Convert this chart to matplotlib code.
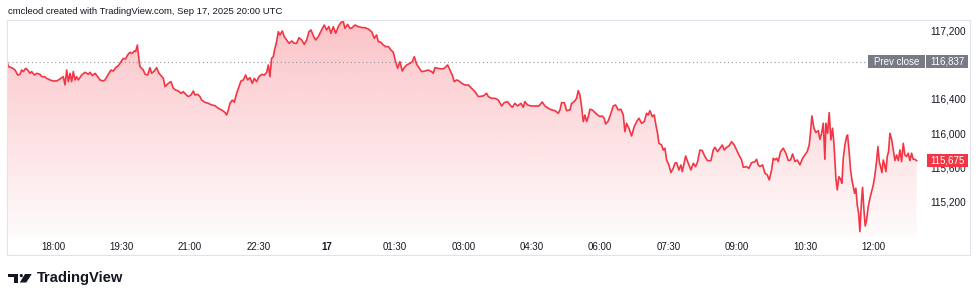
# %%
"""
BTC 日内走势 (TradingView 风格)
"""

import matplotlib.pyplot as plt
import matplotlib.transforms as mtransforms
import numpy as np
from matplotlib.patches import Rectangle, Circle, Polygon

plt.rcParams['font.family'] = ['Liberation Sans', 'DejaVu Sans']

# %%
# 数据: 距 16日 17:00 的分钟数, 价格
t_min = [0, 1.1, 5.5, 9.9, 13.4, 16.4, 18.6, 20.8, 23.9, 26.5, 29.6, 31.8, 35.3, 38.4, 42.8, 45, 48.5, 51.5,
         55.9, 60.3, 64.7, 69.1, 73.5, 75.7, 77.9, 80.1, 82.3, 84.4, 86.6, 88.8, 91, 93.2, 97.6, 102, 106.4,
         108.6, 111.6, 115.2, 118.7, 121.7, 126.1, 128.3, 132.7, 136.2, 139.3, 142.4, 145.9, 149.4, 152.4,
         155.5, 158.1, 161.2, 164.3, 166.9, 168.7, 170.9, 173.1, 174.4, 178.8, 181, 184.5, 187.5, 189.7,
         193.2, 196.3, 199.4,
         202, 205.1, 207.3, 209.5, 211.6, 215.2, 218.2, 221.3, 224.8, 228.3, 231.4, 234.5, 238, 241.5, 244.6,
         246.7, 250.3, 253.3, 255.5, 259.9, 264.3, 268.7, 273.1, 277.5, 281.8, 286.2, 288.4, 290.6, 292.8,
         295.9, 298.5, 301.6, 304.7, 307.3, 310.4, 313.4, 316.1, 319.1, 322.2, 324.8, 327.9, 331, 334.5, 338,
         341.1, 343.3, 345.4, 347.6, 349.8, 352, 354.2, 356.4, 358.6, 361.7, 364.3, 367.4, 370.5, 374, 377.5,
         380.5, 383.6, 387.1, 390.6, 393.7, 396.8,
         399.4, 402.5, 405.5, 409, 413.4, 416.9, 420, 423.1, 425.7, 428.8, 431.9, 435.4, 438.9, 442, 444.1,
         447.7, 450.7, 453.8, 457.3, 461.7, 467, 470.5, 474.9, 479.2, 482.8, 485.8, 488, 491.5, 494.6, 497.7,
         501.2, 504.7, 507.8, 510.8, 513.5, 516.5, 519.6, 522.2, 525.3, 529.7, 532.8, 535.4, 538.5, 541.5,
         545, 549.4, 553.8, 558.2, 560.4, 562.6, 566.1, 571.4, 574.9, 579.3, 582.3, 585.4, 588, 591.1, 594.2,
         597.7, 602.1, 606.4, 610.8, 615.2, 619.6, 626.2, 630.6, 632.8, 637.2, 641.5, 645.9, 650.3, 653.8,
         658.2, 661.3, 664.4, 667.9, 671.4, 675.8, 678.8, 681, 684.5, 688.9, 694.2, 699.5, 703.8, 707.3,
         711.7, 716.1, 720.5, 724.9, 727.1, 729.3, 732.8, 735.9, 740.2, 742.4, 745.9, 749, 751.2, 753.4,
         755.6, 757.8, 760, 762.2, 764.4, 766.6, 769.6, 773.2, 776.7, 779.7, 782.8, 785.4, 787.2, 790.7,
         794.2, 797.3, 800.3, 803.8, 807.4, 810.4, 812.6, 814.8, 817.9, 821.4, 824.9, 828, 831.1, 834.6,
         838.1, 841.1, 843.3, 845.5, 848.6, 851.2, 853, 855.6, 857.4, 860.9, 863.1, 865.3, 867.5, 870.5,
         873.2, 876.2, 878.4, 880.6, 883.7, 886.3, 888.1, 890.7, 892.5, 896, 899.5, 902.6, 905.6, 908.3,
         911.3, 914.4, 917.9, 921.4, 925.8, 928.9, 931.1, 934.6, 937.6, 940.7, 943.4, 946.4, 949.5, 953,
         956.5, 959.6, 962.7, 966.2, 968.4, 972.8, 975.8, 979.3, 983.7, 985.9, 988.1,
         990.3, 993.8, 996.9, 1000, 1002.6, 1005.7, 1007.8, 1010, 1012.2, 1014.4, 1017.5, 1021, 1024.5,
         1027.6, 1030.7, 1033.3, 1036.4, 1039.4, 1043, 1046.5, 1049.5, 1052.6, 1055.2, 1057, 1058.7, 1061.4,
         1064, 1067.1, 1069.3, 1071.5, 1073.7, 1075.8, 1077.2, 1079.4, 1081.5, 1083.7, 1085.9, 1087.7,
         1090.3, 1092.1, 1094.3, 1096.5, 1098.2, 1100, 1102.2, 1104.4, 1105.7, 1107.9, 1109.6, 1111.4,
         1113.1, 1114.9, 1116.6, 1118.4, 1120.2, 1121.9, 1124.1, 1125.4, 1127.2, 1128.9, 1130.7, 1132.9,
         1135.1, 1137.3, 1139.5, 1141.7, 1143.8, 1145.6, 1147.4, 1149.1, 1150.9, 1152.6, 1154.4, 1156.1,
         1157.9, 1159.6, 1161.4, 1163.6, 1165.8, 1168, 1170.2, 1172.4, 1174.6, 1176.8, 1179, 1181.1, 1183.3,
         1185.5, 1187.7, 1189.9, 1192.1, 1194.3, 1196.5]

price = [116820, 116780, 116769, 116741, 116682, 116690, 116741, 116722, 116761, 116741, 116702, 116722,
         116682, 116702, 116690, 116663, 116663, 116643, 116624, 116612, 116612, 116635, 116663, 116565,
         116741, 116604, 116702, 116604, 116722, 116624, 116663, 116624, 116682, 116714, 116690, 116714,
         116675, 116702, 116663, 116624, 116612, 116624, 116690, 116741, 116729, 116769, 116792, 116839,
         116878, 116871, 116918, 116949, 116937, 116965, 116957, 117035, 116859, 116780, 116741, 116690,
         116682, 116769, 116702, 116729, 116769, 116702,
         116675, 116643, 116545, 116565, 116584, 116604, 116526, 116506, 116494, 116467, 116486, 116455,
         116428, 116447, 116494, 116447, 116455, 116428, 116388, 116361, 116349, 116330, 116322, 116290,
         116271, 116243, 116212, 116271, 116349, 116388, 116361, 116467, 116545, 116612, 116624, 116682,
         116624, 116651, 116584, 116643, 116604, 116663, 116690, 116682, 116714, 116800, 116663, 116878,
         116898, 116996, 117074, 117192, 117153, 117200, 117133, 117094, 117055, 117082, 117055, 117055,
         117121, 117094, 117043, 117094, 117192,
         117212, 117145, 117094, 117133, 117212, 117270, 117212, 117251, 117172, 117251, 117172, 117251,
         117302, 117310, 117231, 117278, 117231, 117239, 117270, 117251, 117239, 117239, 117223, 117192,
         117114, 117153, 117074, 117067, 117035, 117016, 117016, 116976, 116949, 116839, 116761, 116839,
         116729, 116769, 116800, 116820, 116839, 116898, 116808, 116769, 116722, 116729, 116741, 116722,
         116702, 116769, 116761, 116753, 116761, 116800, 116741, 116682, 116604, 116624, 116612,
         116585, 116565, 116565, 116526, 116487, 116428, 116436, 116467, 116428, 116408, 116408, 116389,
         116318, 116357, 116369, 116330, 116302, 116349, 116318, 116349, 116302, 116369, 116330, 116318,
         116318, 116318, 116365, 116318, 116291, 116271, 116263, 116232, 116271, 116357, 116357, 116263,
         116271, 116349, 116369, 116408, 116498, 116447, 116310, 116134, 116212, 116134, 116193, 116279,
         116271, 116240, 116212, 116193, 116200, 116173, 116106, 116142,
         116232, 116318, 116330, 116271, 116279, 116212, 116016, 116114, 116055, 115965, 116075, 116134,
         116173, 116114, 116134, 116232, 116212, 116263, 116192, 116212, 116114, 115996, 115879, 115859,
         115800, 115820, 115683, 115624, 115534, 115585, 115644, 115651, 115565, 115624, 115546, 115651,
         115730, 115644, 115565, 115644, 115604, 115663, 115800, 115793, 115722, 115675, 115675, 115800,
         115832, 115781, 115820, 115859, 115800, 115832, 115847, 115898, 115859, 115800, 115742, 115683,
         115597, 115604, 115585, 115651, 115663, 115691, 115624,
         115605, 115625, 115527, 115507, 115448, 115566, 115703, 115683, 115703, 115664, 115781, 115821,
         115762, 115676, 115683, 115754, 115664, 115683, 115625, 115703, 115742, 115781, 115860, 116017,
         116201, 116056, 116005, 116028, 115926, 115997, 116115, 115691, 116115, 115997, 116240, 115919,
         116056, 115879, 115468, 115331, 115487, 115456, 115409, 115703, 115860, 115958, 115977, 115762,
         115566, 115448, 115370, 115291, 115350, 115154, 115056, 114841, 115213, 115362, 115095, 114907,
         114978, 115135, 115233, 115311, 115389, 115507, 115664, 115840, 115664, 115605, 115534, 115683,
         115625, 115546, 115723, 115781, 115997, 115926, 115801, 115676, 115742, 115676, 115801, 115664,
         115879, 115742, 115723, 115762, 115676, 115762, 115691, 115691, 115675]

prev_close = 116837
last_price = 115675

x_ticks = [60, 150, 240, 330, 420, 510, 600, 690, 780, 870, 960, 1050, 1140]
x_labels = ['18:00', '19:30', '21:00', '22:30', '17', '01:30', '03:00', '04:30', '06:00', '07:30',
            '09:00', '10:30', '12:00']
# 116,800 被昨收标签完全遮住, 不画
y_ticks = [115200, 115600, 116000, 116400, 117200]

# %%
# 画布与坐标范围
W, H = 980, 300
x_lo, x_hi = 0, 1201
y_lo, y_hi = 114777, 117329
red = '#F23645'
gray_txt = '#131722'

fig = plt.figure(figsize=(W / 100, H / 100), dpi=100)
ax = fig.add_axes([7.5 / W, 1 - 237 / H, 912.5 / W, 217 / H])
ax.patch.set_alpha(0)

# 渐变填充
grad = np.zeros((256, 1, 4))
grad[:, 0, :3] = np.array([242, 54, 69]) / 255
grad[:, 0, 3] = np.linspace(0.3, 0.02, 256)
im = ax.imshow(grad, extent=[x_lo, x_hi, y_lo, y_hi], aspect='auto', origin='upper', zorder=1)
poly = ax.fill_between(t_min, price, y_lo, color='none', lw=0)
im.set_clip_path(poly.get_paths()[0], transform=ax.transData)

ax.plot(t_min, price, color=red, lw=1.2, zorder=3, solid_joinstyle='round')

# 昨收虚线
ax.axhline(prev_close, xmax=(868 - 7.5) / 912.5, color='#9598a1', lw=0.8, ls=(0, (1, 2.5)), zorder=2)

ax.set_xlim(x_lo, x_hi)
ax.set_ylim(y_lo, y_hi)
for s in ax.spines.values():
    s.set_visible(False)

ax.set_xticks(x_ticks, x_labels)
ax.tick_params(axis='x', length=0, pad=3.5, labelsize=7, labelcolor=gray_txt)
ax.get_xticklabels()[4].set_fontweight('bold')
ax.yaxis.tick_right()
ax.set_yticks(y_ticks, [f'{v:,}' for v in y_ticks])
ax.tick_params(axis='y', length=0, pad=7.5, labelsize=7.2, labelcolor=gray_txt)

# 右侧标签框
trans = mtransforms.blended_transform_factory(fig.transFigure, ax.transData)
bh = 13 * 11.76
fig.add_artist(Rectangle((868 / W, prev_close - bh / 2), 57 / W, bh, transform=trans, color='#787b86', lw=0))
fig.add_artist(Rectangle((926 / W, prev_close - bh / 2), 42 / W, bh, transform=trans, color='#787b86', lw=0))
fig.text(896.5 / W, prev_close, 'Prev close', transform=trans, color='white', fontsize=7, ha='center', va='center')
fig.text(947 / W, prev_close, f'{prev_close:,}', transform=trans, color='white', fontsize=7, ha='center', va='center')
fig.add_artist(Rectangle((927 / W, last_price - bh / 2), 41 / W, bh, transform=trans, color=red, lw=0))
fig.text(947.5 / W, last_price, f'{last_price:,}', transform=trans, color='white', fontsize=7, ha='center', va='center')

# 外框
px = mtransforms.Affine2D().scale(1 / W, -1 / H).translate(0, 1) + fig.transFigure
fig.add_artist(Rectangle((7, 20), 963, 235, transform=px, fill=False, edgecolor='#e0e3eb', lw=0.8))

# 标题
fig.text(8 / W, 1 - 11 / H, 'cmcleod created with TradingView.com, Sep 17, 2025 20:00 UTC',
         fontsize=6.8, va='center', color=gray_txt)

# TradingView 标志
fig.add_artist(Polygon([(8.3, 274), (18.3, 274), (18.3, 282.5), (13.6, 282.5), (13.6, 277), (8.3, 277)],
                       transform=px, color='#131722', lw=0))
fig.add_artist(Circle((21.3, 275.6), 1.6, transform=px, color='#131722', lw=0))
fig.add_artist(Polygon([(25, 274), (31.7, 274), (26.3, 282.5), (19.8, 282.5)], transform=px,
                       color='#131722', lw=0))
fig.text(36.5 / W, 1 - 282.4 / H, 'TradingView', fontsize=10.6, fontweight='bold', va='baseline', color='#131722')

plt.savefig('out.png', dpi=100)
